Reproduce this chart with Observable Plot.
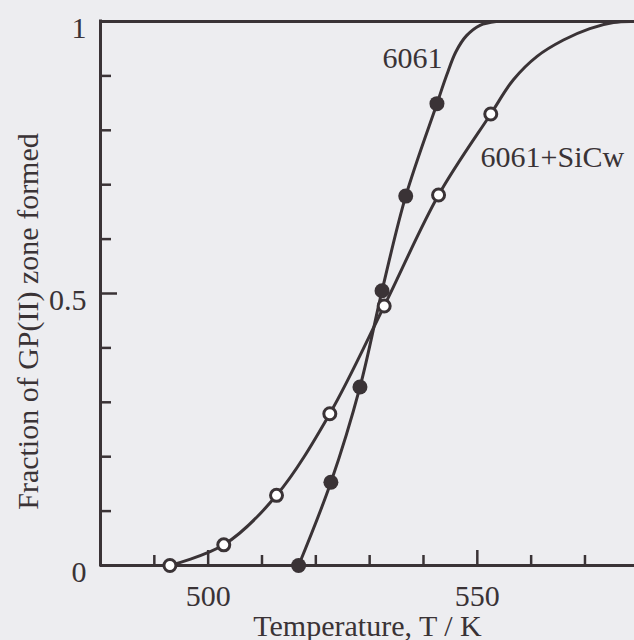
<!DOCTYPE html>
<html>
<head>
<meta charset="utf-8">
<script src="https://cdn.jsdelivr.net/npm/d3@7"></script>
<script src="https://cdn.jsdelivr.net/npm/@observablehq/plot@0.6"></script>
<style>
  html, body { margin: 0; padding: 0; background: #ededf0; }
  #chart svg { display: block; }
</style>
</head>
<body>
<div id="chart"></div>
<script>
// ---- data ----
// 6061 (filled circles)
const t6061 = [516.8, 522.8, 528.2, 532.3, 536.7, 542.5];
const f6061 = [0.0, 0.153, 0.328, 0.505, 0.679, 0.849];
// 6061+SiCw (open circles)
const tSiC = [492.9, 502.9, 512.7, 522.6, 532.7, 542.8, 552.5];
const fSiC = [0.0, 0.038, 0.129, 0.279, 0.477, 0.681, 0.830];
// continuation of the drawn fitted curves up to the top frame
const tail6061T = [544.3, 546.0, 548.0, 550.5, 553.5];
const tail6061F = [0.901, 0.944, 0.974, 0.993, 1.0];
const tailSiCT = [556.7, 561.1, 566.0, 570.9, 575.3, 578.5];
const tailSiCF = [0.893, 0.936, 0.966, 0.987, 0.998, 1.0];

// axes / ticks
const xMinorTicks = [490, 510, 520, 530, 540, 560, 570];
const xMajorTicks = [500, 550];
const yMinorTicks = [0.1, 0.2, 0.3, 0.4, 0.6, 0.7, 0.8, 0.9];
const yMajorTicks = [0.5];
const yTickLabels = [0, 0.5, 1];

// series labels
const labelText = ["6061", "6061+SiCw"];
const labelT = [532.4, 550.6];
const labelF = [0.915, 0.732];

const xTitle = "Temperature, T / K";
const yTitle = "Fraction of GP(II) zone formed";

// ---- build tables ----
const pts6061 = t6061.map((t, i) => ({t, f: f6061[i]}));
const ptsSiC = tSiC.map((t, i) => ({t, f: fSiC[i]}));
const curve6061 = pts6061.concat(tail6061T.map((t, i) => ({t, f: tail6061F[i]})));
const curveSiC = ptsSiC.concat(tailSiCT.map((t, i) => ({t, f: tailSiCF[i]})));
const labels = labelText.map((s, i) => ({s, t: labelT[i], f: labelF[i]}));

const ink = "#3a3336";
const font = "'Liberation Serif', 'Times New Roman', serif";

const chart = Plot.plot({
  width: 634,
  height: 640,
  marginLeft: 100,
  marginRight: 0,
  marginTop: 21,
  marginBottom: 75,
  style: {background: "#ededf0", fontFamily: font, color: ink},
  x: {domain: [480, 579.2]},
  y: {domain: [0, 1]},
  marks: [
    // inward tick marks
    Plot.axisX({ticks: xMinorTicks, tickSize: -10, tickFormat: () => "", strokeWidth: 2.5, label: null}),
    Plot.axisX({ticks: xMajorTicks, tickSize: -15, tickFormat: () => "", strokeWidth: 2.5, label: null}),
    Plot.axisX({ticks: xMajorTicks, tickSize: 0, tickPadding: 19, fontSize: 30, tickFormat: d => String(d), label: null}),
    Plot.axisY({ticks: yMinorTicks, tickSize: -11, tickFormat: () => "", strokeWidth: 2.5, label: null}),
    Plot.axisY({ticks: yMajorTicks, tickSize: -17, tickFormat: () => "", strokeWidth: 2.5, label: null}),
    Plot.axisY({ticks: yTickLabels, tickSize: 0, tickPadding: 14, fontSize: 30, dy: 7, tickFormat: d => String(d), label: null}),
    // frame lines
    Plot.ruleY([0, 1], {stroke: ink, strokeWidth: 3}),
    Plot.ruleX([480], {stroke: ink, strokeWidth: 3, strokeLinecap: "square"}),
    // fitted curves
    Plot.line(curve6061, {x: "t", y: "f", curve: "catmull-rom", stroke: ink, strokeWidth: 3}),
    Plot.line(curveSiC, {x: "t", y: "f", curve: "catmull-rom", stroke: ink, strokeWidth: 3}),
    // markers
    Plot.dot(pts6061, {x: "t", y: "f", r: 7.5, fill: ink, stroke: "none"}),
    Plot.dot(ptsSiC, {x: "t", y: "f", r: 6, fill: "white", stroke: ink, strokeWidth: 3}),
    // series labels
    Plot.text(labels, {x: "t", y: "f", text: "s", textAnchor: "start", lineAnchor: "bottom", fontSize: 30, fill: ink}),
    // axis titles
    Plot.text([xTitle], {frameAnchor: "bottom", dy: 70, textAnchor: "middle", lineAnchor: "bottom", fontSize: 30, fill: ink}),
    Plot.text([yTitle], {frameAnchor: "left", rotate: -90, dx: -63, dy: 28, textAnchor: "middle", lineAnchor: "bottom", fontSize: 30, fill: ink})
  ]
});
document.getElementById("chart").appendChild(chart);
</script>
</body>
</html>
